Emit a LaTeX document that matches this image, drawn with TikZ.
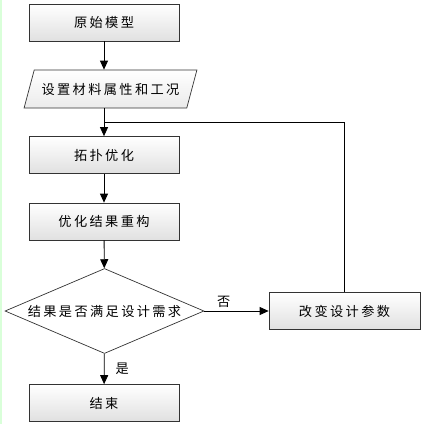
\documentclass[tikz,border=0pt]{standalone}
\usepackage{fontspec}
\setmainfont{Noto Sans CJK SC}[LetterSpace=18]
\usepackage{tikz}
\usetikzlibrary{shapes.geometric, arrows.meta, positioning}

\begin{document}
\begin{tikzpicture}[
    x=1pt, y=-1pt,
    >={Triangle[length=9pt,width=8pt]},
    line width=0.8pt,
    stepbox/.style={rectangle, draw=black!80, line width=0.7pt,
                    top color=white, bottom color=black!12,
                    minimum width=150pt, minimum height=37pt,
                    font=\fontsize{13.2}{15}\selectfont},
    inbox/.style={trapezium, trapezium stretches=true, draw=black!80, line width=0.7pt,
                  trapezium left angle=63, trapezium right angle=117,
                  top color=white, bottom color=black!8,
                  minimum width=173pt, minimum height=38pt,
                  font=\fontsize{13.2}{15}\selectfont},
    testbox/.style={diamond, draw=black!80, line width=0.7pt, aspect=2.3,
                    inner sep=1pt, fill=white,
                    minimum width=199pt, minimum height=85pt,
                    font=\fontsize{13.2}{15}\selectfont},
    flowlabel/.style={font=\fontsize{13.2}{15}\selectfont, inner sep=2pt}
]
\useasboundingbox (0,0) rectangle (423,424);
\draw[green!15, line width=2pt] (1,0) -- (1,424);
% main column
\node[stepbox] (start) at (104,22.5) {原始模型};
\node[inbox] (input) at (110.5,89) {设置材料属性和工况};
\node[stepbox] (topo) at (104,155) {拓扑优化};
\node[stepbox] (rebuild) at (104,221.5) {优化结果重构};
\node[testbox] (decide) at (104.5,311) {结果是否满足设计需求};
\node[stepbox] (finish) at (104,403) {结束};
% side branch
\node[stepbox, minimum width=151pt] (change) at (344.5,311) {改变设计参数};
\coordinate (loop) at (104,122);
% connectors
\draw[->] (start.south) -- (start.south |- input.north);
\draw (start.south |- input.south) -- (loop);
\draw[->] (loop) -- (topo.north);
\draw[->] (topo) -- (rebuild);
\draw[->] (rebuild) -- (decide);
\draw[->] (decide) -- node[flowlabel, pos=0.5, right=9pt]{是} (finish);
\draw[->] (decide.east) -- node[flowlabel, pos=0.3, above=1pt]{否} (change.west);
\draw (change.north) |- (loop);
\end{tikzpicture}
\end{document}
